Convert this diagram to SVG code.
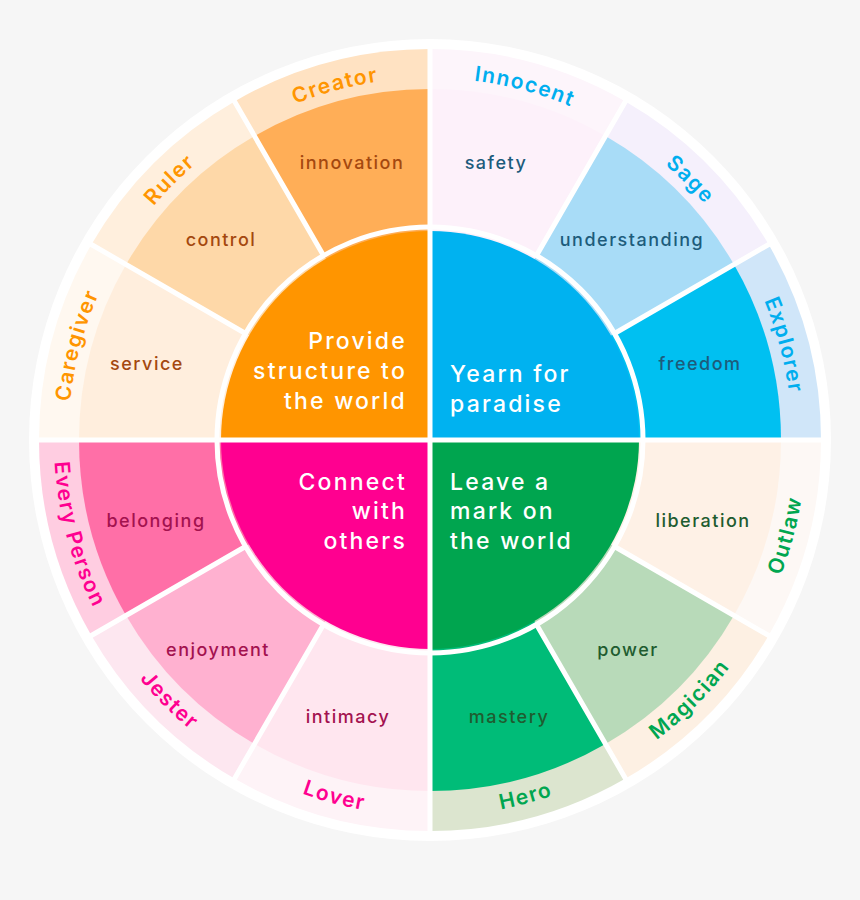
<svg xmlns="http://www.w3.org/2000/svg" xmlns:xlink="http://www.w3.org/1999/xlink" width="860" height="900" viewBox="0 0 860 900">
<style>
.mid{font-family:Inter,"Liberation Sans",sans-serif;font-size:18px;font-weight:500;letter-spacing:1.5px;text-anchor:middle}
.out{font-family:Inter,"Liberation Sans",sans-serif;font-size:21px;font-weight:600;letter-spacing:1.5px;text-anchor:middle}
.core{font-family:Inter,"Liberation Sans",sans-serif;font-size:23px;font-weight:500;letter-spacing:2.2px;fill:#fff}
.o{fill:#ff9500}.b{fill:#00aeef}.g{fill:#00a650}.p{fill:#ff0090}
.to{fill:#a4480f}.tb{fill:#1d5c7c}.tg{fill:#1f5c30}.tp{fill:#a3124f}
.div{stroke:#fff;stroke-width:5;fill:none}
</style>
<defs>
<path id="aCaregiver" d="M68 440 A362 362 0 0 1 116.5 259"/>
<path id="aRuler" d="M116.5 259 A362 362 0 0 1 249 126.5"/>
<path id="aCreator" d="M249 126.5 A362 362 0 0 1 430 78"/>
<path id="aInnocent" d="M430 78 A362 362 0 0 1 611 126.5"/>
<path id="aSage" d="M611 126.5 A362 362 0 0 1 743.5 259"/>
<path id="aExplorer" d="M743.5 259 A362 362 0 0 1 792 440"/>
<path id="aOutlaw" d="M755.62 628 A376 376 0 0 0 806 440"/>
<path id="aMagician" d="M618 765.62 A376 376 0 0 0 755.62 628"/>
<path id="aHero" d="M430 816 A376 376 0 0 0 618 765.62"/>
<path id="aLover" d="M242 765.62 A376 376 0 0 0 430 816"/>
<path id="aJester" d="M104.38 628 A376 376 0 0 0 242 765.62"/>
<path id="aEvery" d="M54 440 A376 376 0 0 0 104.38 628"/>
</defs>
<rect width="860" height="900" fill="#f6f6f6"/>
<circle cx="430" cy="440" r="401" fill="#fff"/>

<g id="creator">
<path d="M430 440 L234.5 101.38 A391 391 0 0 1 430 49 Z" fill="#ffe2c2"/>
<path d="M430 440 L254.5 136.02 A351 351 0 0 1 430 89 Z" fill="#ffae57"/>
<text class="out o"><textPath xlink:href="#aCreator" href="#aCreator" startOffset="50%">Creator</textPath></text>
<text class="mid to" x="352" y="169">innovation</text>
</g>
<g id="ruler">
<path d="M430 440 L91.38 244.5 A391 391 0 0 1 234.5 101.38 Z" fill="#ffefdd"/>
<path d="M430 440 L126.02 264.5 A351 351 0 0 1 254.5 136.02 Z" fill="#fed8a8"/>
<text class="out o"><textPath xlink:href="#aRuler" href="#aRuler" startOffset="50%">Ruler</textPath></text>
<text class="mid to" x="221" y="246">control</text>
</g>
<g id="caregiver">
<path d="M430 440 L39 440 A391 391 0 0 1 91.38 244.5 Z" fill="#fff8f0"/>
<path d="M430 440 L79 440 A351 351 0 0 1 126.02 264.5 Z" fill="#ffeedd"/>
<text class="out o"><textPath xlink:href="#aCaregiver" href="#aCaregiver" startOffset="50%">Caregiver</textPath></text>
<text class="mid to" x="147" y="370">service</text>
</g>
<g id="innocent">
<path d="M430 440 L430 49 A391 391 0 0 1 625.5 101.38 Z" fill="#fdf5fb"/>
<path d="M430 440 L430 89 A351 351 0 0 1 605.5 136.02 Z" fill="#fdf1fa"/>
<text class="out b"><textPath xlink:href="#aInnocent" href="#aInnocent" startOffset="50%">Innocent</textPath></text>
<text class="mid tb" x="496" y="169">safety</text>
</g>
<g id="sage">
<path d="M430 440 L625.5 101.38 A391 391 0 0 1 768.62 244.5 Z" fill="#f5f0fc"/>
<path d="M430 440 L605.5 136.02 A351 351 0 0 1 733.98 264.5 Z" fill="#a8dcf7"/>
<text class="out b"><textPath xlink:href="#aSage" href="#aSage" startOffset="50%">Sage</textPath></text>
<text class="mid tb" x="632" y="246">understanding</text>
</g>
<g id="explorer">
<path d="M430 440 L768.62 244.5 A391 391 0 0 1 821 440 Z" fill="#d0e6f9"/>
<path d="M430 440 L733.98 264.5 A351 351 0 0 1 781 440 Z" fill="#00c0f1"/>
<text class="out b"><textPath xlink:href="#aExplorer" href="#aExplorer" startOffset="50%">Explorer</textPath></text>
<text class="mid tb" x="700" y="370">freedom</text>
</g>
<g id="outlaw">
<path d="M430 440 L821 440 A391 391 0 0 1 768.62 635.5 Z" fill="#fdf8f5"/>
<path d="M430 440 L781 440 A351 351 0 0 1 733.98 615.5 Z" fill="#fef1e6"/>
<text class="out g"><textPath xlink:href="#aOutlaw" href="#aOutlaw" startOffset="50%">Outlaw</textPath></text>
<text class="mid tg" x="703" y="527">liberation</text>
</g>
<g id="magician">
<path d="M430 440 L768.62 635.5 A391 391 0 0 1 625.5 778.62 Z" fill="#fdf0e3"/>
<path d="M430 440 L733.98 615.5 A351 351 0 0 1 605.5 743.98 Z" fill="#b8dab9"/>
<text class="out g"><textPath xlink:href="#aMagician" href="#aMagician" startOffset="50%">Magician</textPath></text>
<text class="mid tg" x="628" y="656">power</text>
</g>
<g id="hero">
<path d="M430 440 L625.5 778.62 A391 391 0 0 1 430 831 Z" fill="#dce5cf"/>
<path d="M430 440 L605.5 743.98 A351 351 0 0 1 430 791 Z" fill="#00bc78"/>
<text class="out g"><textPath xlink:href="#aHero" href="#aHero" startOffset="50%">Hero</textPath></text>
<text class="mid tg" x="509" y="723">mastery</text>
</g>
<g id="lover">
<path d="M430 440 L430 831 A391 391 0 0 1 234.5 778.62 Z" fill="#fef3f7"/>
<path d="M430 440 L430 791 A351 351 0 0 1 254.5 743.98 Z" fill="#ffe6ef"/>
<text class="out p"><textPath xlink:href="#aLover" href="#aLover" startOffset="50%">Lover</textPath></text>
<text class="mid tp" x="348" y="723">intimacy</text>
</g>
<g id="jester">
<path d="M430 440 L234.5 778.62 A391 391 0 0 1 91.38 635.5 Z" fill="#fde7f0"/>
<path d="M430 440 L254.5 743.98 A351 351 0 0 1 126.02 615.5 Z" fill="#ffb1d0"/>
<text class="out p"><textPath xlink:href="#aJester" href="#aJester" startOffset="50%">Jester</textPath></text>
<text class="mid tp" x="218" y="656">enjoyment</text>
</g>
<g id="every-person">
<path d="M430 440 L91.38 635.5 A391 391 0 0 1 39 440 Z" fill="#ffcde1"/>
<path d="M430 440 L126.02 615.5 A351 351 0 0 1 79 440 Z" fill="#ff6fa7"/>
<text class="out p"><textPath xlink:href="#aEvery" href="#aEvery" startOffset="50%">Every Person</textPath></text>
<text class="mid tp" x="156" y="527">belonging</text>
</g>

<g id="dividers" class="div">
<circle cx="430" cy="440" r="213"/>
<path d="M614.46 546.5 L772.95 638 M536.5 624.46 L628 782.95 M323.5 624.46 L232 782.95 M245.54 546.5 L87.05 638 M245.54 333.5 L87.05 242 M323.5 255.54 L232 97.05 M536.5 255.54 L628 97.05 M614.46 333.5 L772.95 242"/>
</g>

<g id="core-structure">
<path d="M430 440 L221 440 A209 209 0 0 1 430 231 Z" fill="#ff9500"/>
<text class="core" text-anchor="end"><tspan x="407" y="349">Provide</tspan><tspan x="407" y="379">structure to</tspan><tspan x="407" y="409">the world</tspan></text>
</g>
<g id="core-paradise">
<path d="M430 440 L430 231 A209 209 0 0 1 639 440 Z" fill="#00b2f0"/>
<text class="core"><tspan x="450" y="382">Yearn for</tspan><tspan x="450" y="412">paradise</tspan></text>
</g>
<g id="core-mark">
<path d="M430 440 L639 440 A209 209 0 0 1 430 649 Z" fill="#00a54f"/>
<text class="core"><tspan x="450" y="490">Leave a</tspan><tspan x="450" y="519">mark on</tspan><tspan x="450" y="549">the world</tspan></text>
</g>
<g id="core-connect">
<path d="M430 440 L430 649 A209 209 0 0 1 221 440 Z" fill="#ff0090"/>
<text class="core" text-anchor="end"><tspan x="407" y="490">Connect</tspan><tspan x="407" y="519">with</tspan><tspan x="407" y="549">others</tspan></text>
</g>

<g id="axes" class="div">
<path d="M430 42 L430 838 M32 440 L828 440"/>
</g>
</svg>
